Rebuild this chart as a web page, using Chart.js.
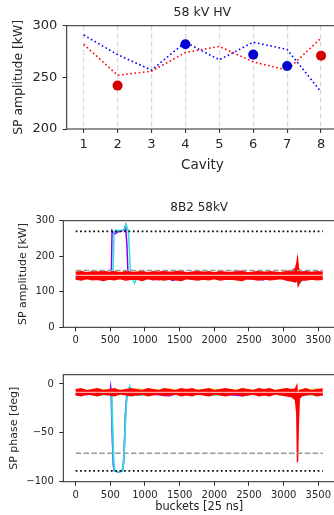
<!DOCTYPE html>
<html>
<head>
<meta charset="utf-8">
<script src="https://cdn.jsdelivr.net/npm/chart.js@4"></script>
<style>
  html, body { margin: 0; padding: 0; background: #fff; overflow: hidden; }
  body { width: 334px; height: 515px; position: relative; }
  canvas { position: absolute; left: 0; }
  #cavityChart { top: 0; }
  #ampChart { top: 190px; }
  #phaseChart { top: 365px; }
</style>
</head>
<body>
<canvas id="cavityChart" width="338" height="180"></canvas>
<canvas id="ampChart" width="335" height="170"></canvas>
<canvas id="phaseChart" width="335" height="150"></canvas>
<script>
// --- top panel: amplitude per cavity ---
const cavities = [1, 2, 3, 4, 5, 6, 7, 8];
const blueLine = [291, 272, 257, 284, 267, 284, 277, 236];
const redLine = [282, 252, 256, 274, 280, 265, 257, 288];
const blueDots = [null, null, null, 282, null, 272, 261, null];
const redDots = [null, 242, null, null, null, null, null, 271];
const cavityAmpTicks = [200, 250, 300];

// --- middle / bottom panels: per-bucket traces ---
const bucketTicks = [0, 500, 1000, 1500, 2000, 2500, 3000, 3500];
const ampTicks = [0, 100, 200, 300];
const phaseTicks = [-100, -50, 0];
const refX = [0, 3564];
const ampDotted = [270, 270];
const ampDashed = [160, 160];
const ampMean = [146, 146];
const phaseDotted = [-89, -89];
const phaseDashed = [-71, -71];
const phaseMean = [-8.5, -8.5];

const redX = [0, 80, 160, 240, 320, 400, 480, 560, 640, 720, 800, 880, 960, 1040, 1120, 1200, 1280, 1360, 1440, 1520,
  1600, 1680, 1760, 1840, 1920, 2000, 2080, 2160, 2240, 2320, 2400, 2480, 2560, 2640, 2720, 2800, 2880, 2960, 3040, 3120,
  3170, 3190, 3200, 3210, 3225, 3260, 3320, 3400, 3480, 3564];
const redAmpHi = [154, 157, 153, 156, 155, 158, 154, 156, 153, 157, 155, 154, 158, 153, 156, 155, 157, 154, 156, 158,
  153, 155, 157, 154, 156, 153, 157, 155, 154, 156, 158, 153, 155, 157, 154, 156, 155, 153, 157, 160,
  165, 180, 192, 170, 158, 155, 157, 154, 156, 155];
const redAmpLo = [136, 133, 137, 134, 135, 132, 136, 134, 137, 133, 135, 136, 132, 137, 134, 135, 133, 136, 134, 132,
  137, 135, 133, 136, 134, 137, 133, 135, 136, 134, 132, 137, 135, 133, 136, 134, 135, 137, 133, 130,
  128, 132, 140, 118, 125, 134, 133, 136, 134, 135];
const redPhHi = [-6, -5, -7, -6, -5, -7, -6, -5, -7, -6, -5, -6, -7, -5, -6, -7, -5, -6, -7, -5,
  -6, -5, -7, -6, -5, -7, -6, -5, -6, -7, -5, -6, -7, -5, -6, -5, -7, -6, -5, -6,
  -5, -2, -25, -10, -7, -6, -5, -7, -6, -5];
const redPhLo = [-11, -12, -10, -11, -12, -10, -11, -12, -10, -11, -12, -11, -10, -12, -11, -10, -12, -11, -10, -12,
  -11, -12, -10, -11, -12, -10, -11, -12, -11, -10, -12, -11, -10, -12, -11, -12, -10, -11, -12, -13,
  -16, -30, -80, -45, -15, -12, -11, -10, -12, -11];

const purpleAmpX = [0, 100, 200, 300, 400, 500, 515, 525, 560, 600, 650, 700, 720, 740, 755,
  800, 900, 1000, 1100, 1200, 1300, 1400, 1500, 1600, 1700, 1800, 1900, 2000, 2100, 2200, 2300, 2400, 2500,
  2600, 2700, 2800, 2900, 3000, 3100, 3200, 3300, 3400, 3500, 3564];
const purpleAmpY = [140, 138, 142, 136, 141, 139, 150, 272, 262, 268, 270, 274, 286, 230, 150,
  138, 142, 137, 141, 134, 140, 132, 141, 138, 140, 136, 142, 139, 137, 141, 138, 140, 136,
  139, 133, 141, 138, 140, 137, 145, 139, 141, 137, 140];
const cyanAmpX = [0, 100, 200, 300, 400, 500, 540, 555, 580, 650, 700, 725, 760, 790, 820, 850, 880,
  950, 1050, 1150, 1250, 1350, 1450, 1550, 1650, 1750, 1850, 1950, 2050, 2150, 2250, 2350, 2450, 2550,
  2650, 2750, 2850, 2950, 3050, 3150, 3220, 3300, 3400, 3500, 3564];
const cyanAmpY = [143, 139, 141, 137, 142, 140, 160, 268, 274, 272, 275, 290, 272, 160, 135, 124, 140,
  138, 142, 136, 140, 139, 137, 141, 135, 140, 138, 142, 137, 140, 139, 136, 141, 138,
  140, 137, 142, 139, 136, 140, 122, 140, 138, 141, 139];

const fringeX = [0, 150, 300, 450, 600, 750, 900, 1050, 1200, 1350, 1500, 1650, 1800, 1950, 2100, 2250,
  2400, 2550, 2700, 2850, 3000, 3150, 3300, 3450, 3564];
const yellowAmp = [156, 152, 157, 151, 156, 152, 157, 151, 156, 152, 156, 151, 157, 152, 156, 151,
  156, 152, 157, 152, 156, 151, 157, 152, 156];
const greenAmp = [138, 142, 137, 141, 139, 142, 137, 141, 138, 142, 137, 141, 137, 142, 139, 141,
  137, 142, 138, 141, 137, 142, 137, 141, 139];
const yellowPh = [-6, -7, -5, -6, -6, -7, -5, -6, -6, -5, -7, -6, -6, -5, -6, -7, -5, -6, -6, -7, -5, -6, -6, -5, -6];
const greenPh = [-11, -10, -12, -11, -11, -10, -12, -11, -11, -12, -10, -11, -11, -12, -11, -10,
  -12, -11, -11, -10, -12, -11, -11, -12, -11];

const purplePhX = [0, 150, 300, 450, 495, 505, 515, 530, 545, 560, 620, 670, 690, 705, 720, 740, 760,
  900, 1050, 1200, 1350, 1500, 1650, 1800, 1950, 2100, 2250, 2400, 2550, 2700, 2850, 3000, 3150, 3300, 3450, 3564];
const purplePhY = [-10, -11, -9, -11, -9, -3, -11, -55, -84, -89, -90, -89, -82, -60, -30, -11, -9,
  -11, -10, -11, -12, -9, -11, -10, -11, -9, -11, -12, -10, -11, -9, -11, -10, -11, -10, -11];
const cyanPhX = [0, 150, 300, 450, 520, 535, 550, 565, 620, 680, 695, 710, 725, 740, 760, 780, 800,
  900, 1050, 1200, 1350, 1500, 1650, 1800, 1950, 2100, 2250, 2400, 2550, 2700, 2850, 3000, 3150, 3300, 3450, 3564];
const cyanPhY = [-9, -7, -10, -8, -9, -40, -78, -89, -90, -88, -78, -55, -30, -12, -6, -2, -8,
  -10, -8, -7, -11, -9, -7, -10, -8, -11, -7, -9, -8, -10, -7, -9, -8, -11, -9, -8];
const bluePhX = [0, 300, 510, 525, 540, 555, 620, 675, 690, 705, 720, 735, 750, 900, 1500, 2100, 2700, 3300, 3564];
const bluePhY = [-9, -10, -9, -45, -80, -89, -90, -89, -80, -55, -28, -12, -9, -10, -9, -10, -9, -10, -9];

const FONT = 'DejaVu Sans';
const INK = '#262626';

function pts(xs, ys) {
  return xs.map((x, i) => ({ x: x, y: ys[i] }));
}

function minus(v) {
  return v < 0 ? '\u2212' + Math.abs(v) : String(v);
}

// matplotlib-like box around the plot area
const frame = {
  id: 'frame',
  afterDatasetsDraw(chart) {
    const { ctx, chartArea: a } = chart;
    ctx.save();
    ctx.strokeStyle = INK;
    ctx.lineWidth = 1;
    ctx.strokeRect(a.left, a.top, a.right - a.left, a.bottom - a.top);
    ctx.restore();
  }
};

function tickGrid(extra) {
  return Object.assign({
    display: true, drawOnChartArea: false, drawTicks: true,
    tickLength: 4, tickColor: INK, tickWidth: 1, tickBorderDash: [4, 0]
  }, extra || {});
}

// fixed axis sizes
function fixX(height) {
  return s => { s.height = height; s.paddingLeft = 0; s.paddingRight = 0; };
}
function fixY(width) {
  return s => { s.width = width; s.paddingTop = 0; s.paddingBottom = 0; };
}

// the plot area runs past the right edge of the window, like the cropped original;
// widen the canvas until the plot area ends where it should
function stretchTo(chart, right) {
  const extra = Math.ceil(right - chart.chartArea.right);
  if (extra > 0) chart.resize(chart.width + extra, chart.height);
}

function line(xs, ys, color, width, dash) {
  return {
    data: pts(xs, ys), borderColor: color, borderWidth: width,
    borderDash: dash || [], pointRadius: 0, fill: false, tension: 0
  };
}

// title centred over the plot area, not the whole canvas
function axesTitle(text, size, padTop, padBottom) {
  return {
    display: true, text: text, color: INK, fullSize: false,
    font: { family: FONT, size: size, weight: 'normal' },
    padding: { top: padTop, bottom: padBottom }
  };
}

const base = {
  responsive: false,
  maintainAspectRatio: false,
  animation: false
};

// ---------- top panel ----------
const cavityChart = new Chart(document.getElementById('cavityChart'), {
  type: 'line',
  data: {
    datasets: [
      { data: pts(cavities, blueDots), showLine: false, pointRadius: 5, pointBackgroundColor: '#0000d4', pointBorderWidth: 0 },
      { data: pts(cavities, redDots), showLine: false, pointRadius: 5, pointBackgroundColor: '#d40000', pointBorderWidth: 0 },
      line(cavities, redLine, '#ff0000', 1.6, [1.6, 2.6]),
      line(cavities, blueLine, '#0000ff', 1.6, [1.6, 2.6])
    ]
  },
  options: Object.assign({}, base, {
    layout: { padding: 0 },
    plugins: {
      legend: { display: false },
      tooltip: { enabled: false },
      title: axesTitle('58 kV HV', 12.5, 5.5, 5.2)
    },
    scales: {
      x: {
        type: 'linear', min: 0.5, max: 8.5,
        afterFit: fixX(51),
        afterBuildTicks: s => { s.ticks = cavities.map(v => ({ value: v })); },
        grid: tickGrid({ drawOnChartArea: true, color: '#d6d6d6', lineWidth: 1.2 }),
        border: { display: false, dash: [5, 3] },
        ticks: { font: { family: FONT, size: 13 }, color: INK, padding: 4.2, maxRotation: 0, autoSkip: false },
        title: {
          display: true, text: 'Cavity', color: INK,
          font: { family: FONT, size: 13.5 }, padding: { top: 0, bottom: 6.9 }
        }
      },
      y: {
        min: 200, max: 300,
        afterFit: fixY(66.7),
        afterBuildTicks: s => { s.ticks = cavityAmpTicks.map(v => ({ value: v })); },
        grid: tickGrid(),
        border: { display: false },
        ticks: { font: { family: FONT, size: 13 }, color: INK, padding: 5.5 },
        title: {
          display: true, text: 'SP amplitude [kW]', color: INK,
          font: { family: FONT, size: 12.4 }, padding: { top: 11.6, bottom: 0 }
        }
      }
    }
  }),
  plugins: [frame]
});
stretchTo(cavityChart, 337.7);

// ---------- middle panel: amplitude per bucket ----------
const ampChart = new Chart(document.getElementById('ampChart'), {
  type: 'line',
  data: {
    datasets: [
      line(refX, ampDotted, '#111111', 1.8, [1.8, 2.6]),
      line(refX, ampDashed, '#9a9a9a', 1.5, [5.5, 2.4]),
      line(refX, ampMean, '#ffaaaa', 1.2),
      Object.assign(line(redX, redAmpHi, '#ff0000', 1.5), { fill: '+1', backgroundColor: '#ff0000' }),
      line(redX, redAmpLo, '#ff0000', 1.5),
      line(cyanAmpX, cyanAmpY, '#30e0e0', 1.5),
      line(purpleAmpX, purpleAmpY, '#8000ff', 1.5),
      line(fringeX, yellowAmp, '#e6d84a', 1.2),
      line(fringeX, greenAmp, '#7fe89a', 1.2)
    ]
  },
  options: Object.assign({}, base, {
    layout: { padding: 0 },
    plugins: {
      legend: { display: false },
      tooltip: { enabled: false },
      title: axesTitle('8B2 58kV', 12, 10.6, 5.7)
    },
    scales: {
      x: {
        type: 'linear', min: -178, max: 3742,
        afterFit: fixX(32.7),
        afterBuildTicks: s => { s.ticks = bucketTicks.map(v => ({ value: v })); },
        grid: tickGrid(),
        border: { display: false },
        ticks: { font: { family: FONT, size: 10 }, color: INK, padding: 2.7, maxRotation: 0, autoSkip: false, callback: v => String(v) }
      },
      y: {
        min: 0, max: 300,
        afterFit: fixY(63.3),
        afterBuildTicks: s => { s.ticks = ampTicks.map(v => ({ value: v })); },
        grid: tickGrid(),
        border: { display: false },
        ticks: { font: { family: FONT, size: 10 }, color: INK, padding: 4.8 },
        title: {
          display: true, text: 'SP amplitude [kW]', color: INK,
          font: { family: FONT, size: 11 }, padding: { top: 16.4, bottom: 0 }
        }
      }
    }
  }),
  plugins: [frame]
});
stretchTo(ampChart, 335.3);

// ---------- bottom panel: phase per bucket ----------
const phaseChart = new Chart(document.getElementById('phaseChart'), {
  type: 'line',
  data: {
    datasets: [
      line(refX, phaseDotted, '#111111', 1.8, [1.8, 2.6]),
      line(refX, phaseDashed, '#9a9a9a', 1.5, [5.5, 2.4]),
      line(refX, phaseMean, '#ffaaaa', 1.2),
      Object.assign(line(redX, redPhHi, '#ff0000', 1.5), { fill: '+1', backgroundColor: '#ff0000' }),
      line(redX, redPhLo, '#ff0000', 1.5),
      line(cyanPhX, cyanPhY, '#30e0e0', 1.5),
      line(bluePhX, bluePhY, '#4a90f0', 1.5),
      line(purplePhX, purplePhY, '#8000ff', 1.5),
      line(fringeX, yellowPh, '#e6d84a', 1.2),
      line(fringeX, greenPh, '#7fe89a', 1.2)
    ]
  },
  options: Object.assign({}, base, {
    layout: { padding: { top: 9.7, left: 0, right: 0, bottom: 0 } },
    plugins: {
      legend: { display: false },
      tooltip: { enabled: false }
    },
    scales: {
      x: {
        type: 'linear', min: -178, max: 3742,
        afterFit: fixX(33.3),
        afterBuildTicks: s => { s.ticks = bucketTicks.map(v => ({ value: v })); },
        grid: tickGrid(),
        border: { display: false },
        ticks: { font: { family: FONT, size: 10 }, color: INK, padding: 3.3, maxRotation: 0, autoSkip: false, callback: v => String(v) },
        title: {
          display: true, text: 'buckets [25 ns]', color: INK,
          font: { family: FONT, size: 11.4 }, padding: { top: 0, bottom: 1.4 }
        }
      },
      y: {
        min: -100, max: 9.5,
        afterFit: fixY(63.3),
        afterBuildTicks: s => { s.ticks = phaseTicks.map(v => ({ value: v })); },
        grid: tickGrid(),
        border: { display: false },
        ticks: { font: { family: FONT, size: 10 }, color: INK, padding: 5.5, callback: v => minus(v) },
        title: {
          display: true, text: 'SP phase [deg]', color: INK,
          font: { family: FONT, size: 11 }, padding: { top: 7.4, bottom: 0 }
        }
      }
    }
  }),
  plugins: [frame]
});
stretchTo(phaseChart, 335.3);
</script>
</body>
</html>
